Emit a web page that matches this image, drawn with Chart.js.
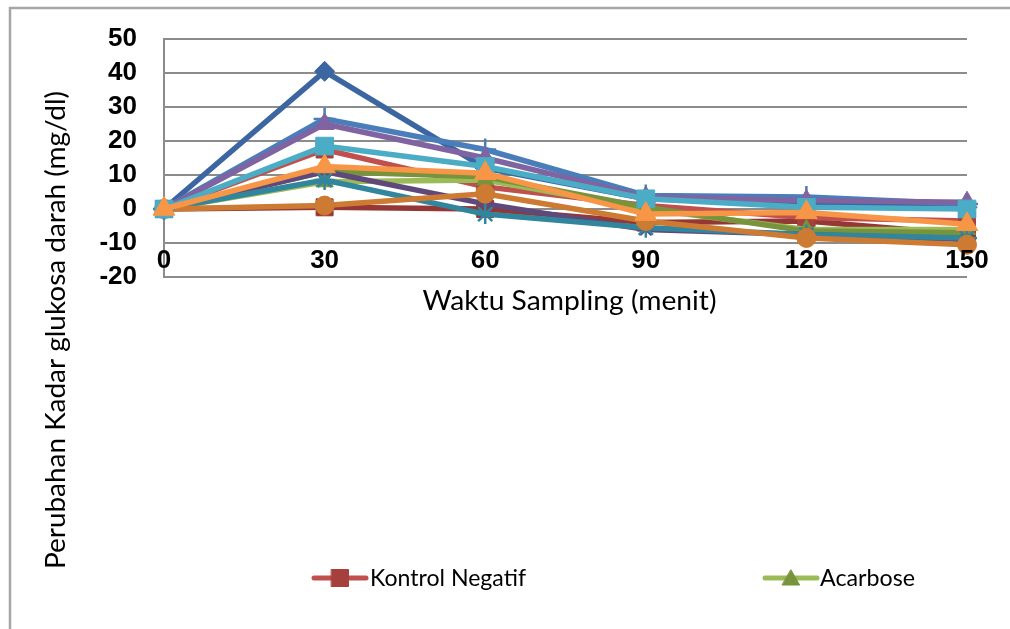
<!DOCTYPE html>
<html><head><meta charset="utf-8">
<script src="https://cdn.jsdelivr.net/npm/chart.js@4"></script>
<style>html,body{margin:0;padding:0;background:#fff}#wrap{width:1010px;height:629px;position:relative}</style>
</head><body><div id="wrap"><canvas id="c" width="1010" height="629"></canvas></div>
<script>
// ---- data ----
const categories = ['0', '30', '60', '90', '120', '150'];
const seriesNames = ['Seri 1', 'Kontrol Negatif', 'Acarbose', 'Seri 4', 'Seri 5', 'Seri 6', 'Seri 7', 'Seri 8', 'Seri 9', 'Seri 10', 'Seri 11', 'Seri 12'];
const seri1 = [0, 0.5, 0, -4, -3.5, -7.5];
const kontrolNegatif = [0, 17.5, 6.5, 1, -2.5, -3.5];
const acarbose = [0, 8, 8.5, 0, -6, -6];
const seri4 = [0, 11, 9.5, 0.5, -6.5, -7];
const seri5 = [0, 11, 1.5, -6, -7.5, -9];
const seri6 = [0, 8.5, -1.5, -5.5, -7.5, -8.5];
const seri7 = [0, 1, 4.5, -3.5, -8.5, -10.5];
const seri8 = [0, 40.5, 12, 3, 1.5, 0.5];
const seri9 = [0, 26.5, 17.5, 4, 3.5, 1.5];
const seri10 = [0, 25, 15, 3.5, 2.5, 2];
const seri11 = [0, 18.5, 12.5, 3, 0.5, 0];
const seri12 = [0, 12.5, 10.5, -1.5, -1, -4.5];
const yTicks = [-20, -10, 0, 10, 20, 30, 40, 50];
const legendShown = ['Kontrol Negatif', 'Acarbose'];

// ---- styles (drawing order: first = bottom) ----
const seriesValues = [seri1, kontrolNegatif, acarbose, seri4, seri5, seri6, seri7, seri8, seri9, seri10, seri11, seri12];
const styles = [
  {line: '#953735', fill: '#953735', shape: 'rect', r: 12},
  {line: '#C0504D', fill: '#A5403D', shape: 'rect', r: 12},
  {line: '#9BBB59', fill: '#77933C', shape: 'triangle', r: 10},
  {line: '#77933C', fill: '#77933C', shape: 'triangle', r: 0},
  {line: '#5F497A', fill: '#5F497A', shape: 'crossRot', r: 8},
  {line: '#31859C', fill: '#31859C', shape: 'star', r: 10},
  {line: '#CD7A33', fill: '#CD7A33', shape: 'circle', r: 9.5},
  {line: '#3B66A1', fill: '#3B66A1', shape: 'rectRot', r: 10},
  {line: '#4A7EBB', fill: '#4A7EBB', shape: 'cross', r: 11},
  {line: '#8064A2', fill: '#8064A2', shape: 'triangle', r: 11},
  {line: '#4BACC6', fill: '#4BACC6', shape: 'rect', r: 12.5},
  {line: '#F79646', fill: '#F79646', shape: 'triangle', r: 12.5}
];

const datasets = seriesValues.map((vals, i) => ({
  label: seriesNames[i],
  data: vals,
  borderColor: styles[i].line,
  backgroundColor: styles[i].fill,
  pointBackgroundColor: styles[i].fill,
  pointBorderColor: styles[i].fill,
  pointStyle: styles[i].shape,
  pointRadius: styles[i].r,
  pointBorderWidth: (styles[i].shape === 'cross' || styles[i].shape === 'star' || styles[i].shape === 'crossRot') ? 2.5 : 1,
  borderWidth: 5.5,
  tension: 0,
  fill: false,
  clip: false,
  order: seriesValues.length - i
}));

function drawFitted(ctx, text, x, y, family, weight, size, targetWidth, align) {
  ctx.save();
  ctx.font = weight + ' ' + size + 'px ' + family;
  const w = ctx.measureText(text).width;
  const sx = targetWidth / w;
  ctx.translate(x, y);
  ctx.scale(sx, 1);
  ctx.textBaseline = 'middle';
  ctx.textAlign = align;
  ctx.fillStyle = '#000';
  ctx.fillText(text, 0, 0);
  ctx.restore();
}

const decor = {
  id: 'decor',
  beforeDraw(chart) {
    const ctx = chart.ctx;
    ctx.save();
    ctx.fillStyle = '#fff';
    ctx.fillRect(0, 0, chart.width, chart.height);
    ctx.strokeStyle = '#a6a6a6';
    ctx.lineWidth = 2.5;
    ctx.beginPath();
    ctx.moveTo(10, 629); ctx.lineTo(10, 8); ctx.lineTo(1010, 8);
    ctx.stroke();
    ctx.restore();
  },
  afterDatasetsDraw(chart) {
    const ctx = chart.ctx;
    const xs = chart.scales.x, ys = chart.scales.y;
    // x tick labels placed just below the -10 line
    ctx.save();
    ctx.font = 'bold 26px "Liberation Sans", Arial, sans-serif';
    ctx.fillStyle = '#000';
    ctx.textAlign = 'center';
    ctx.textBaseline = 'middle';
    const ly = (ys.getPixelForValue(-10) + ys.getPixelForValue(-20)) / 2 + 1;
    categories.forEach((c, i) => ctx.fillText(c, xs.getPixelForValue(i), ly));
    ctx.restore();
    // axis titles
    drawFitted(ctx, 'Waktu Sampling (menit)', (xs.left + xs.right) / 2 + 4, 301, 'Lato, "Open Sans", sans-serif', 'normal', 27, 294, 'center');
    ctx.save();
    ctx.translate(56, 330);
    ctx.rotate(-Math.PI / 2);
    drawFitted(ctx, 'Perubahan Kadar glukosa darah (mg/dl)', 0, 0, 'Lato, "Open Sans", sans-serif', 'normal', 27, 478, 'center');
    ctx.restore();
    // legend
    const items = [
      {name: legendShown[0], idx: 1, x1: 314, x2: 366, tx: 370, tw: 156},
      {name: legendShown[1], idx: 2, x1: 765, x2: 817, tx: 820, tw: 95}
    ];
    const legY = 578;
    items.forEach(it => {
      const st = styles[it.idx];
      ctx.save();
      ctx.strokeStyle = st.line;
      ctx.lineWidth = 5;
      ctx.lineCap = 'round';
      ctx.beginPath(); ctx.moveTo(it.x1, legY); ctx.lineTo(it.x2, legY); ctx.stroke();
      ctx.fillStyle = st.fill;
      ctx.strokeStyle = st.fill;
      ctx.lineWidth = 1;
      Chart.helpers.drawPoint(ctx, {pointStyle: st.shape, radius: st.shape === 'rect' ? 12 : 10, borderWidth: 1, rotation: 0}, (it.x1 + it.x2) / 2, legY + (st.shape === 'triangle' ? 2 : 0));
      ctx.restore();
      drawFitted(ctx, it.name, it.tx, legY, 'Lato, "Open Sans", sans-serif', 'normal', 24, it.tw, 'left');
    });
  }
};

new Chart(document.getElementById('c'), {
  type: 'line',
  data: {labels: categories, datasets: datasets},
  options: {
    responsive: false,
    animation: false,
    devicePixelRatio: 1,
    layout: {padding: {left: 0, top: 39, right: 43, bottom: 352}},
    plugins: {legend: {display: false}, tooltip: {enabled: false}},
    scales: {
      x: {
        type: 'category',
        display: false,
        offset: false
      },
      y: {
        min: yTicks[0],
        max: yTicks[yTicks.length - 1],
        afterBuildTicks(scale) { scale.ticks = yTicks.map(v => ({value: v})); },
        afterFit(scale) { scale.width = 164; },
        ticks: {
          autoSkip: false,
          font: {family: '"Liberation Sans", Arial, sans-serif', size: 26, weight: 'bold', lineHeight: 0.85},
          color: '#000',
          padding: 27
        },
        grid: {color: '#8c8c8c', lineWidth: 2, drawTicks: false},
        border: {color: '#8c8c8c', width: 2}
      }
    }
  },
  plugins: [decor]
});
</script>
</body></html>
